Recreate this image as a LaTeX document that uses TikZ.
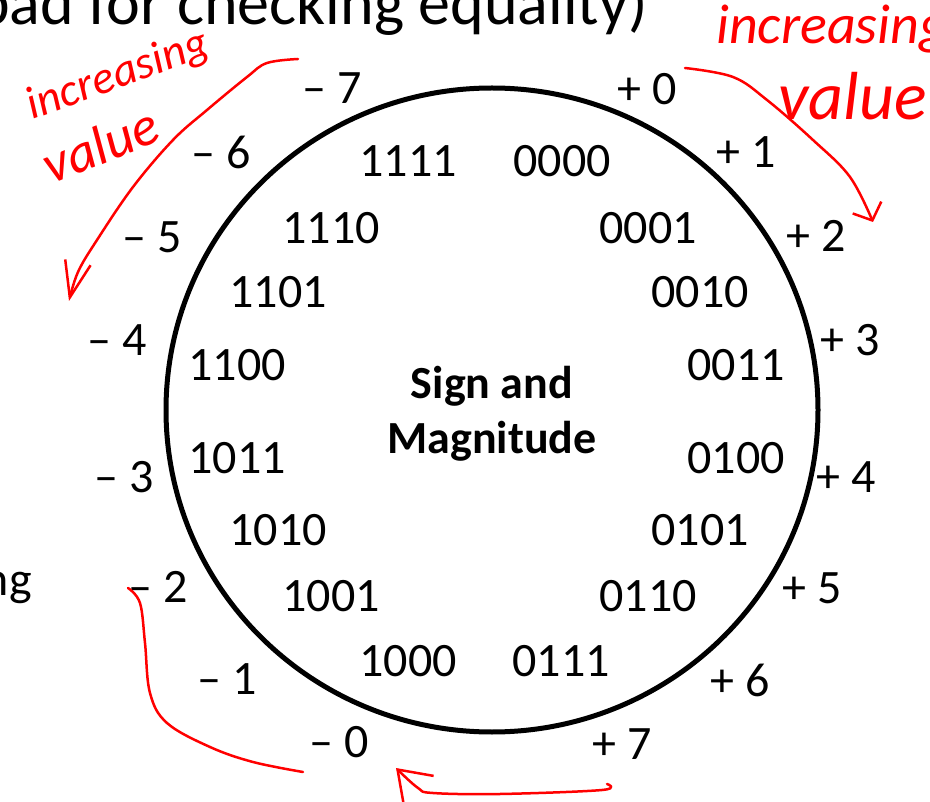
\documentclass[tikz,border=0pt]{standalone}
\usepackage{fontspec}
\setmainfont{Carlito}
\usepackage{tikz}
\usetikzlibrary{shapes, arrows, positioning, calc, arrows.meta}

\begin{document}
\begin{tikzpicture}[x=1pt, y=-1pt,
    lbl/.style={font=\fontsize{48}{56}\selectfont, inner sep=0pt},
    ink/.style={red, line width=2.5pt, line cap=round, line join=round},
    hand/.style={red, inner sep=0pt, font=\itshape\fontsize{#1}{#1}\selectfont}]
    \useasboundingbox (0,0) rectangle (930,802);
    \clip (0,0) rectangle (930,802);

    % --- Slide text cut off at the edges ---
    \node[anchor=base east, inner sep=0pt, font=\fontsize{64}{72}\selectfont] (cutTop) at (648,25) {bad for checking equality)};
    \node[anchor=base east, inner sep=0pt, font=\fontsize{48}{56}\selectfont] (cutSide) at (32,595) {ng};

    % --- The wheel ---
    \node[draw, ellipse, line width=5pt, minimum width=652pt, minimum height=644pt] (wheel) at (492,410) {};
    \node[align=center, inner sep=0pt, font=\bfseries\fontsize{46}{55}\selectfont] (title) at (492,414) {Sign and\\Magnitude};

    % --- Bit patterns inside ---
    \foreach \code/\x/\y in {1111/408/161, 0000/562/161, 1110/331/228, 0001/648/228,
                             1101/278/292, 0010/700/292, 1100/237/365, 0011/736/365,
                             1011/237/458, 0100/736/458, 1010/278/530, 0101/700/530,
                             1001/331/596, 0110/648/596, 1000/408/661, 0111/561/661}
        \node[lbl] (b\code) at (\x,\y) {\code};

    % --- Values outside ---
    \foreach \v/\x/\y in {0/647/89, 1/746/152, 2/816/236, 3/850/340,
                          4/846/477, 5/812/588, 6/740/680, 7/622/744}
        \node[lbl] (pos\v) at (\x,\y) {+ \v};
    \foreach \v/\x/\y in {7/332/88, 6/221/152, 5/152/237, 4/117/340,
                          3/124/477, 2/158/587, 1/227/679, 0/339/742}
        \node[lbl] (neg\v) at (\x,\y) {– \v};

    % --- Handwritten notes ---
    \node[hand=46, rotate=20] (noteL) at (118,76) {increasing};
    \node[hand=55, rotate=22] (valL) at (100,145) {value};
    \node[hand=56, anchor=base west] (noteR) at (716,44) {increasing};
    \node[hand=68, anchor=base west] (valR) at (778,120) {value};

    \coordinate (tlS) at (298,59);
    \coordinate (tlE) at (69,301);
    \coordinate (trS) at (685,68);
    \coordinate (trE) at (873,222);
    \coordinate (blS) at (128,588);
    \coordinate (blE) at (303,772);
    \coordinate (btS) at (607,784);
    \coordinate (btE) at (396,768);

    % negative side gets bigger downwards
    \draw[ink, -{Straight Barb[length=36pt, width=26pt]}]
        plot[smooth, tension=0.6] coordinates {(tlS) (267,63) (247,77) (207,110) (173,140) (133,187) (97,240) (78,272) (tlE)};
    % positive side gets bigger downwards
    \draw[ink, -{Straight Barb[length=14pt, width=31pt]}]
        plot[smooth, tension=0.6] coordinates {(trS) (733,77) (767,100) (813,140) (850,177) (trE)};
    % wrap round at the bottom
    \draw[ink] plot[smooth, tension=0.6] coordinates {(blS) (140,603) (145,643) (150,693) (167,723) (210,747) (253,762) (blE)};
    \draw[ink, -{Straight Barb[length=30pt, width=42pt]}]
        plot[smooth, tension=0.6] coordinates {(btS) (602,790) (500,794) (433,793) (418,788) (btE)};

\end{tikzpicture}
\end{document}
